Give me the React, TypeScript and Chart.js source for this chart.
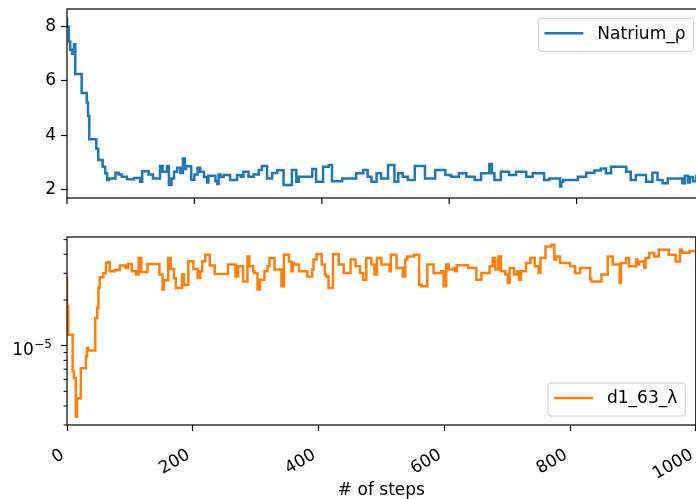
import React, { useEffect, useRef } from "react";
import { Chart, registerables } from "chart.js";

Chart.register(...registerables);

// ---------- data ----------
const seriesNames = ["Natrium_ρ", "d1_63_λ"];
const seriesColors = ["#1f77b4", "#ff7f0e"];
const xTitle = "# of steps";
const xTicks = [0, 200, 400, 600, 800, 1000];
const topYTicks = [2, 4, 6, 8];
const logYTicks = [3e-6, 4e-6, 5e-6, 6e-6, 7e-6, 8e-6, 9e-6, 1e-5, 2e-5, 3e-5, 4e-5, 5e-5];

const natriumSteps = [
  0, 3, 5, 8, 11, 13, 23, 31, 33, 35, 46, 49, 56, 60, 63, 66, 76, 81, 86, 94,
  105, 115, 118, 128, 135, 146, 150, 157, 160, 164, 168, 173, 178, 182, 185, 187, 195, 200, 205, 209,
  215, 220, 222, 233, 236, 238, 241, 246, 256, 267, 273, 277, 285, 293, 301, 306, 314, 322, 330, 340,
  353, 360, 364, 385, 391, 402, 411, 416, 432, 454, 465, 472, 478, 486, 493, 504, 514, 520, 527, 535,
  546, 562, 578, 594, 603, 615, 627, 640, 650, 663, 667, 671, 681, 694, 705, 721, 731, 749, 757, 774,
  776, 779, 802, 815, 828, 838, 846, 854, 878, 885, 893, 909, 919, 927, 935, 943, 966, 970, 975, 978,
  983, 988, 995, 1000,
];
const natriumValues = [
  8.35, 8.0, 7.45, 7.15, 7.0, 7.35, 6.25, 5.55, 5.2, 4.7, 3.85, 3.5, 3.08, 2.83, 2.59, 2.34, 2.4, 2.61, 2.55, 2.46,
  2.37, 2.42, 2.28, 2.67, 2.55, 2.4, 2.86, 2.65, 2.86, 2.16, 2.4, 2.65, 2.8, 2.6, 3.14, 2.75, 2.85, 2.35, 2.55, 2.8,
  2.65, 2.45, 2.25, 2.5, 2.3, 2.2, 2.55, 2.45, 2.53, 2.34, 2.53, 2.46, 2.65, 2.46, 2.55, 2.71, 2.86, 2.4, 2.6, 2.7,
  2.16, 2.71, 2.28, 2.46, 2.75, 2.28, 2.83, 2.9, 2.3, 2.4, 2.59, 2.71, 2.46, 2.28, 2.59, 2.4, 2.9, 2.28, 2.59, 2.46,
  2.34, 2.86, 2.4, 2.71, 2.53, 2.46, 2.59, 2.46, 2.34, 2.59, 2.93, 2.59, 2.34, 2.65, 2.53, 2.65, 2.46, 2.59, 2.34, 2.4,
  2.1, 2.28, 2.34, 2.46, 2.61, 2.69, 2.77, 2.59, 2.83, 2.65, 2.34, 2.53, 2.28, 2.61, 2.34, 2.22, 2.4, 2.22, 2.5, 2.25,
  2.45, 2.3, 2.5, 2.5,
];

const lambdaSteps = [
  0, 1, 2, 9, 11, 14, 16, 22, 30, 32, 34, 45, 48, 50, 52, 58, 62, 65, 68, 76,
  84, 93, 97, 103, 110, 114, 118, 128, 147, 152, 154, 161, 165, 170, 173, 183, 186, 188, 193, 201,
  208, 212, 215, 220, 227, 235, 246, 256, 268, 272, 280, 287, 290, 296, 298, 303, 307, 314, 319, 322,
  330, 341, 345, 353, 357, 359, 361, 369, 382, 390, 392, 397, 405, 410, 412, 416, 423, 432, 440, 451,
  459, 466, 471, 476, 484, 489, 493, 500, 513, 515, 524, 534, 538, 541, 552, 560, 564, 573, 583, 595,
  599, 603, 607, 615, 617, 620, 638, 651, 659, 672, 677, 681, 686, 690, 697, 701, 704, 711, 716, 719,
  722, 730, 737, 744, 750, 753, 761, 770, 775, 778, 784, 800, 808, 816, 832, 834, 850, 860, 868, 879,
  881, 889, 894, 905, 907, 910, 918, 920, 926, 934, 941, 957, 968, 975, 978, 990, 1000,
];
const lambdaValues = [
  2.86e-5, 1.64e-5, 1.81e-5, 1.18e-5, 6.8e-6, 6.1e-6, 3.4e-6, 4.5e-6, 7.1e-6, 8.5e-6, 9.65e-6, 9.3e-6, 1.52e-5, 1.77e-5, 2.4e-5, 2.82e-5, 3.0e-5, 3.5e-5, 3.56e-5, 3.09e-5,
  3.15e-5, 3.38e-5, 3.25e-5, 3.45e-5, 3.09e-5, 2.94e-5, 3.78e-5, 3.06e-5, 3.45e-5, 2.94e-5, 2.34e-5, 2.7e-5, 3.78e-5, 3.2e-5, 2.79e-5, 2.4e-5, 2.94e-5, 2.5e-5, 2.52e-5, 3.6e-5,
  3.2e-5, 2.79e-5, 3.09e-5, 3.6e-5, 3.97e-5, 3.38e-5, 2.97e-5, 2.97e-5, 3.42e-5, 2.86e-5, 3.33e-5, 2.65e-5, 3.87e-5, 3.33e-5, 3.09e-5, 3.01e-5, 2.34e-5, 2.72e-5, 3.09e-5, 3.33e-5,
  3.78e-5, 3.17e-5, 2.46e-5, 3.97e-5, 3.59e-5, 3.09e-5, 3.51e-5, 3.42e-5, 3.09e-5, 2.86e-5, 3.17e-5, 3.69e-5, 4.02e-5, 3.42e-5, 2.94e-5, 2.86e-5, 2.4e-5, 4.02e-5, 3.42e-5, 3.01e-5,
  3.69e-5, 3.33e-5, 3.01e-5, 2.72e-5, 3.78e-5, 3.42e-5, 2.94e-5, 3.78e-5, 3.42e-5, 3.09e-5, 3.97e-5, 3.25e-5, 2.86e-5, 3.69e-5, 3.87e-5, 3.97e-5, 2.52e-5, 2.46e-5, 3.42e-5, 3.01e-5,
  3.09e-5, 2.46e-5, 3.42e-5, 3.17e-5, 3.25e-5, 3.09e-5, 3.39e-5, 3.25e-5, 2.72e-5, 3.01e-5, 3.33e-5, 3.78e-5, 3.17e-5, 3.87e-5, 3.09e-5, 2.94e-5, 2.59e-5, 3.25e-5, 2.94e-5, 3.09e-5,
  2.72e-5, 3.09e-5, 3.51e-5, 3.78e-5, 3.33e-5, 3.01e-5, 3.78e-5, 4.51e-5, 4.63e-5, 3.69e-5, 3.87e-5, 3.51e-5, 3.33e-5, 3.01e-5, 3.25e-5, 2.76e-5, 2.65e-5, 2.94e-5, 3.87e-5, 3.42e-5,
  2.59e-5, 3.51e-5, 3.78e-5, 3.33e-5, 3.69e-5, 3.42e-5, 3.59e-5, 3.25e-5, 3.78e-5, 4.08e-5, 3.87e-5, 4.29e-5, 3.97e-5, 3.59e-5, 4.29e-5, 4.1e-5, 4.2e-5,
];

// ---------- helpers ----------
const FONT = '"DejaVu Sans", sans-serif';
const isDecade = (v: number) => Math.abs(Math.log10(v) - Math.round(Math.log10(v))) < 1e-9;
const exponentText = (v: number) => String(Math.round(Math.log10(v))).replace("-", "\u2212");

const framePlugin = {
  id: "frame",
  afterDraw(chart: any) {
    const { ctx, chartArea: a } = chart;
    ctx.save();
    ctx.strokeStyle = "#000";
    ctx.lineWidth = 1.2;
    ctx.strokeRect(a.left, a.top, a.right - a.left, a.bottom - a.top);
    ctx.restore();
  },
};

// x tick marks for the upper panel (shared x axis, no labels)
const xTickMarksPlugin = {
  id: "xTickMarks",
  afterDraw(chart: any) {
    const s = chart.scales.x;
    const { ctx, chartArea: a } = chart;
    ctx.save();
    ctx.strokeStyle = "#000";
    ctx.lineWidth = 1.2;
    xTicks.forEach((v) => {
      const x = s.getPixelForValue(v);
      ctx.beginPath();
      ctx.moveTo(x, a.bottom);
      ctx.lineTo(x, a.bottom + 6);
      ctx.stroke();
    });
    ctx.restore();
  },
};

// log axis: minor ticks shorter, decade labels drawn as 10 with superscript
const logAxisPlugin = {
  id: "logAxis",
  afterDraw(chart: any) {
    const s = chart.scales.y;
    const { ctx, chartArea: a } = chart;
    ctx.save();
    ctx.strokeStyle = "#000";
    s.ticks.forEach((t: any) => {
      const y = s.getPixelForValue(t.value);
      if (!isDecade(t.value)) {
        ctx.lineWidth = 1;
        ctx.beginPath();
        ctx.moveTo(a.left - 3.5, y);
        ctx.lineTo(a.left, y);
        ctx.stroke();
        return;
      }
      const exp = exponentText(t.value);
      const right = a.left - 15;
      ctx.fillStyle = "#000";
      ctx.textBaseline = "alphabetic";
      ctx.textAlign = "right";
      ctx.font = `12px ${FONT}`;
      const we = ctx.measureText(exp).width;
      ctx.fillText(exp, right, y + 2);
      ctx.font = `17px ${FONT}`;
      ctx.fillText("10", right - we - 0.5, y + 9);
    });
    ctx.restore();
  },
};

const legendPlugin = {
  id: "mplLegend",
  afterDraw(chart: any, _args: any, opts: any) {
    const { ctx, chartArea: a } = chart;
    ctx.save();
    ctx.font = `17px ${FONT}`;
    const tw = ctx.measureText(opts.label).width;
    const w = 6 + 39 + 14 + tw + 8;
    const h = 33;
    const right = a.right - 10.5;
    const left = right - w;
    const top = opts.loc === "upper" ? a.top + 9.3 : a.bottom - 9 - h;
    ctx.beginPath();
    (ctx as any).roundRect(left, top, w, h, 3);
    ctx.fillStyle = "rgba(255,255,255,0.8)";
    ctx.fill();
    ctx.strokeStyle = "#cccccc";
    ctx.lineWidth = 1;
    ctx.stroke();
    const cy = top + 15;
    ctx.beginPath();
    ctx.moveTo(left + 6, cy);
    ctx.lineTo(left + 45, cy);
    ctx.strokeStyle = opts.color;
    ctx.lineWidth = 2.5;
    ctx.stroke();
    ctx.fillStyle = "#000";
    ctx.textBaseline = "middle";
    ctx.textAlign = "left";
    ctx.fillText(opts.label, left + 59, cy + 1);
    ctx.restore();
  },
};

function buildData(steps: number[], values: number[], name: string, color: string) {
  return {
    datasets: [
      {
        label: name,
        data: steps.map((s, i) => ({ x: s, y: values[i] })),
        borderColor: color,
        backgroundColor: color,
        borderWidth: 2.5,
        pointRadius: 0,
        stepped: "after",
        fill: false,
        tension: 0,
      },
    ],
  };
}

const yGrid = { display: true, drawOnChartArea: false, drawTicks: true, tickLength: 6, tickWidth: 1.2, tickColor: "#000" };

export default function App() {
  const topRef = useRef<HTMLCanvasElement | null>(null);
  const botRef = useRef<HTMLCanvasElement | null>(null);

  useEffect(() => {
    Chart.defaults.font.family = FONT;
    const top = new Chart(topRef.current as HTMLCanvasElement, {
      type: "line",
      data: buildData(natriumSteps, natriumValues, seriesNames[0], seriesColors[0]) as any,
      plugins: [framePlugin, xTickMarksPlugin, legendPlugin],
      options: {
        responsive: false,
        animation: false,
        layout: { padding: { top: 30, left: 0, right: 16, bottom: 20 } },
        plugins: {
          legend: { display: false },
          tooltip: { enabled: false },
          mplLegend: { label: seriesNames[0], color: seriesColors[0], loc: "upper" },
        } as any,
        scales: {
          x: { type: "linear", min: 0, max: 1000, display: false } as any,
          y: {
            type: "linear",
            min: 1.68,
            max: 8.65,
            afterBuildTicks: (s: any) => {
              s.ticks = topYTicks.map((v) => ({ value: v }));
            },
            afterFit: (s: any) => {
              s.width = 67;
            },
            grid: yGrid,
            border: { display: false },
            ticks: { color: "#000", font: { size: 17, family: FONT }, padding: 5, autoSkip: false },
          } as any,
        },
      },
    });

    const bot = new Chart(botRef.current as HTMLCanvasElement, {
      type: "line",
      data: buildData(lambdaSteps, lambdaValues, seriesNames[1], seriesColors[1]) as any,
      plugins: [framePlugin, logAxisPlugin, legendPlugin],
      options: {
        responsive: false,
        animation: false,
        layout: { padding: { top: 30, left: 0, right: 16, bottom: 0 } },
        plugins: {
          legend: { display: false },
          tooltip: { enabled: false },
          mplLegend: { label: seriesNames[1], color: seriesColors[1], loc: "lower" },
        } as any,
        scales: {
          x: {
            type: "linear",
            min: 0,
            max: 1000,
            afterBuildTicks: (s: any) => {
              s.ticks = xTicks.map((v) => ({ value: v }));
            },
            afterFit: (s: any) => {
              s.height = 74;
            },
            grid: { display: true, drawOnChartArea: false, drawTicks: true, tickLength: 6, tickWidth: 1.2, tickColor: "#000" },
            border: { display: false },
            ticks: {
              minRotation: 30,
              maxRotation: 30,
              autoSkip: false,
              color: "#000",
              font: { size: 17, family: FONT },
              padding: 14,
              labelOffset: -4,
              callback: (v: any) => String(v),
            },
            title: {
              display: true,
              text: xTitle,
              color: "#000",
              font: { size: 17, family: FONT, lineHeight: 1.0 },
              padding: { top: 0, bottom: 0 },
            },
          } as any,
          y: {
            type: "logarithmic",
            min: 3e-6,
            max: 5.2e-5,
            afterBuildTicks: (s: any) => {
              s.ticks = logYTicks.map((v) => ({ value: v, major: isDecade(v) }));
            },
            afterFit: (s: any) => {
              s.width = 67;
            },
            grid: {
              ...yGrid,
              tickColor: (c: any) => (c.tick && isDecade(c.tick.value) ? "#000" : "rgba(0,0,0,0)"),
            },
            border: { display: false },
            ticks: {
              color: "#000",
              font: { size: 17, family: FONT },
              padding: 5,
              autoSkip: false,
              callback: () => "",
            },
          } as any,
        },
      },
    });

    return () => {
      top.destroy();
      bot.destroy();
    };
  }, []);

  return (
    <div style={{ position: "fixed", left: 0, top: 0, width: 696, height: 499, overflow: "hidden", background: "#fff" }}>
      <canvas ref={topRef} width={720} height={239} style={{ position: "absolute", left: 0, top: -21, width: 720, height: 239 }} />
      <canvas ref={botRef} width={720} height={292} style={{ position: "absolute", left: 0, top: 207, width: 720, height: 292 }} />
    </div>
  );
}
